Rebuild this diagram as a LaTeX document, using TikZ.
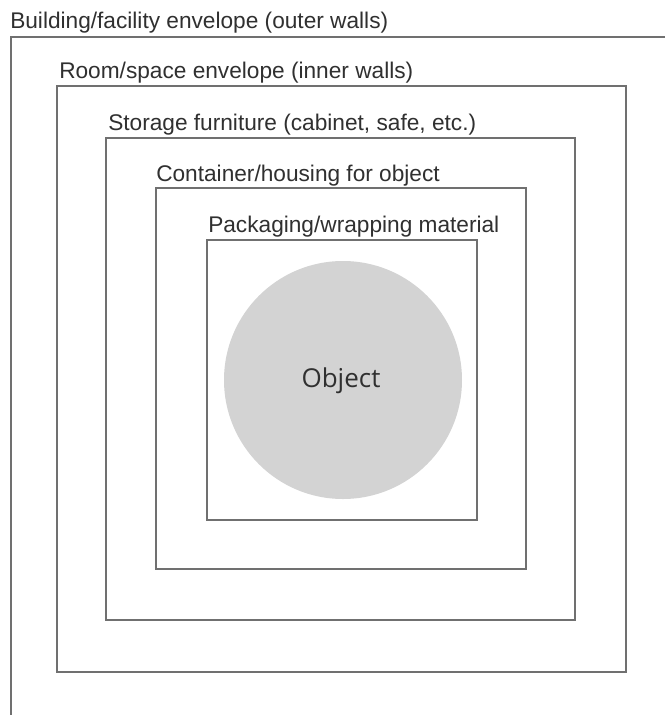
\documentclass[tikz,border=0pt]{standalone}
\usepackage{fontspec}
\setmainfont{Liberation Sans}
\newfontfamily\objfont{Open Sans}
\definecolor{wallgray}{HTML}{707070}
\definecolor{objgray}{HTML}{D3D3D3}
\definecolor{txtgray}{HTML}{303030}
\begin{document}
\begin{tikzpicture}[x=0.75pt,y=-0.75pt,
  wall/.style={draw=wallgray,line width=1.1pt},
  envbox/.style={wall,rectangle,inner sep=0pt,outer sep=0pt},
  envlabel/.style={anchor=base west,inner sep=0pt,text=txtgray,font=\fontsize{17pt}{20pt}\selectfont}]
\useasboundingbox (0,0) rectangle (665,715);
\fill[white] (0,0) rectangle (665,715);
% outer building envelope (open to the right and bottom)
\coordinate (bTR) at (665,37);
\coordinate (bTL) at (11,37);
\coordinate (bBL) at (11,715);
\draw[wall] (bTR) -- (bTL) -- (bBL);
\node[envlabel] (bL) at (10,28) {Building/facility envelope (outer walls)};
% nested boxes
\node[envbox,minimum width=569*0.75pt,minimum height=586*0.75pt] (room) at (341.5,379) {};
\node[envlabel] (roomL) at (59,78) {Room/space envelope (inner walls)};
\node[envbox,minimum width=469*0.75pt,minimum height=482*0.75pt] (stor) at (340.5,379) {};
\node[envlabel] (storL) at (108,130) {Storage furniture (cabinet, safe, etc.)};
\node[envbox,minimum width=370*0.75pt,minimum height=381*0.75pt] (cont) at (341,378.5) {};
\node[envlabel] (contL) at (156,181) {Container/housing for object};
\node[envbox,minimum width=270*0.75pt,minimum height=280*0.75pt] (pack) at (342,380) {};
\node[envlabel] (packL) at (208,232) {Packaging/wrapping material};
% object
\node[circle,fill=objgray,minimum size=238*0.75pt,inner sep=0pt] (obj) at (343,380) {};
\node[text=txtgray,font=\objfont\fontsize{19.5pt}{22pt}\selectfont,inner sep=0pt] (objL) at (341,381) {Object};
\end{tikzpicture}
\end{document}
